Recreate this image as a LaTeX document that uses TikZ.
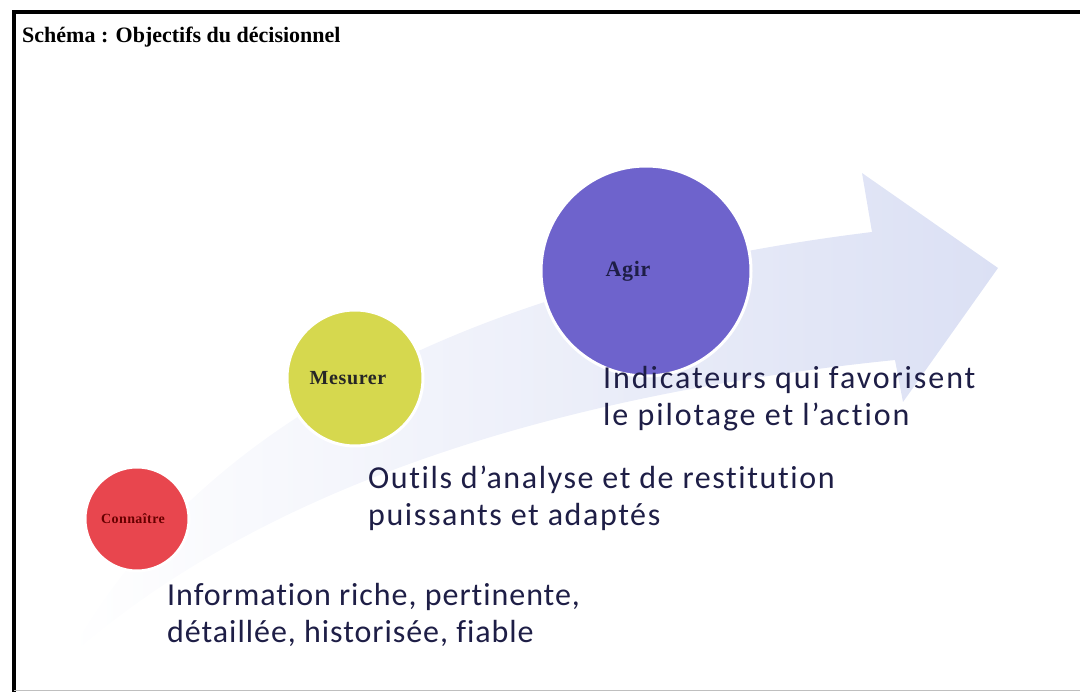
\documentclass[tikz,border=0pt]{standalone}
\usepackage{fontspec}
\setmainfont{Carlito}[Ligatures=NoCommon, LetterSpace=5]
\newfontfamily\titlefont{Liberation Serif}
\newfontfamily\labelfont{Liberation Serif}[LetterSpace=3]
\usetikzlibrary{positioning}

\definecolor{arrowblue}{RGB}{219,224,244}
\definecolor{textblue}{RGB}{30,30,70}
\definecolor{knowred}{RGB}{232,70,78}
\definecolor{measureyellow}{RGB}{214,216,78}
\definecolor{actpurple}{RGB}{110,99,204}

\begin{document}
\begin{tikzpicture}[x=1pt,y=-1pt]

\tikzstyle{stage} = [
	circle, draw=white, line width=3pt, inner sep=0pt ];
\tikzstyle{caption} = [
	anchor=north west, align=left, inner sep=0pt, text=textblue,
	font=\fontsize{32}{37}\selectfont ];
\useasboundingbox (0,0) rectangle (1080,692);

% frame
\draw[line width=4pt] (14,692) -- (14,12) -- (1080,12);
\draw[black!25] (14,690) -- (1080,690);
\node[anchor=base west, inner sep=0pt, font=\titlefont\bfseries\fontsize{22}{26}\selectfont]
	(title) at (22,43) {Schéma : Objectifs du décisionnel};

% rising arrow
\shade[left color=white, right color=arrowblue]
	(68,658) .. controls (170,470) and (400,290) .. (872,232)
	-- (862,173) -- (998,268) -- (903,402) -- (895,360)
	.. controls (600,390) and (280,470) .. (68,658) -- cycle;

\node[stage, fill=knowred, minimum size=104, text=red!40!black,
	font=\labelfont\bfseries\fontsize{14}{16}\selectfont] (know) at (137,519) {\hspace*{-8pt}Connaître};
\node[stage, fill=measureyellow, minimum size=136, text=black!85,
	font=\labelfont\bfseries\fontsize{20}{22}\selectfont] (measure) at (355,378) {\hspace*{-14pt}Mesurer};
\node[stage, fill=actpurple, minimum size=210, text=textblue,
	font=\labelfont\bfseries\fontsize{22}{24}\selectfont] (act) at (646,271) {\hspace*{-36pt}Agir};

\node[caption, font=\fontsize{32}{37}\selectfont\addfontfeature{LetterSpace=3}]
	(knowtext) at (167,583) {Information riche, pertinente,\\détaillée, historisée, fiable};
\node[caption] (measuretext) at (368,466) {Outils d'analyse et de restitution\\puissants et adaptés};
\node[caption, font=\fontsize{32}{37}\selectfont\addfontfeature{LetterSpace=6}]
	(acttext) at (603,366) {Indicateurs qui favorisent\\le pilotage et l'action};

\end{tikzpicture}
\end{document}
